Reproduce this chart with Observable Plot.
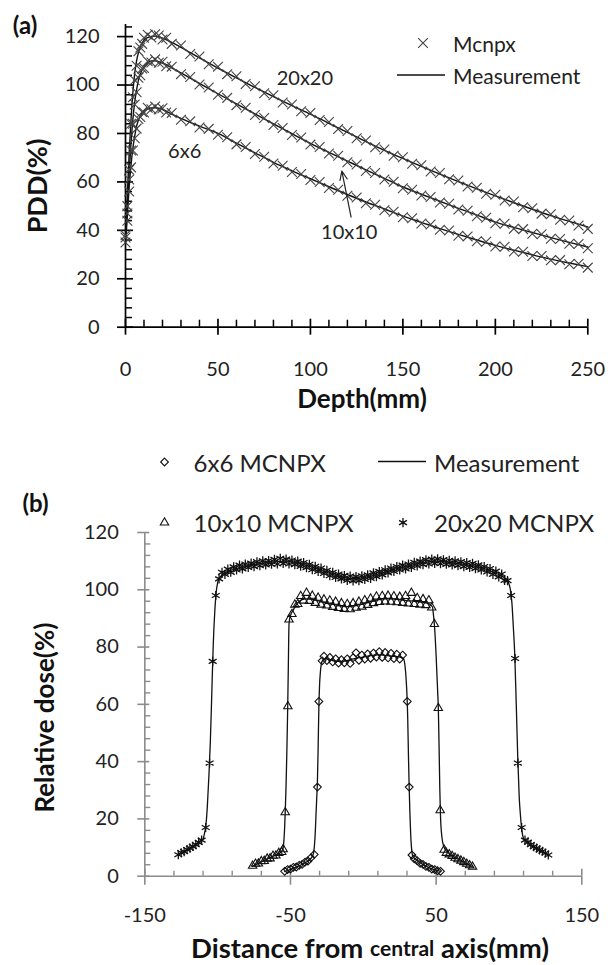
<!DOCTYPE html>
<html><head><meta charset="utf-8">
<script src="https://cdn.jsdelivr.net/npm/d3@7"></script>
<script src="https://cdn.jsdelivr.net/npm/@observablehq/plot@0.6"></script>
<style>
body{margin:0;background:#fff;}
#wrap{position:relative;width:608px;height:965px;overflow:hidden;font-family:Lato,'Open Sans',sans-serif;}
#topc{position:absolute;left:0;top:0}
#botc{position:absolute;left:0;top:440px}
#ov{position:absolute;left:0;top:0;pointer-events:none}
</style></head>
<body><div id="wrap"><div id="topc"></div><div id="botc"></div>
<svg id="ov" width="608" height="965" font-family="Lato,'Open Sans',sans-serif"></svg></div>
<script>
// ---------- (a) PDD curves ----------
const pddMeasDepth = [0,1,2,3,4,5,6,7,8,10,12,14,16,18,20,25,30,40,50,60,70,80,90,100,110,120,130,140,150,160,170,180,190,200,210,220,230,240,250];
const pddMeas20 = [38,55,72,86,97,105,110,113.5,116,118.5,119.6,120.1,120.2,119.9,119.4,117.6,115.6,111.2,107,103,99,95.2,91.5,88,84.2,80.5,76.6,73,69.7,66.4,63.2,60.1,57.1,54.2,51.4,48.7,46.1,43.7,41.4];
const pddMeas10 = [36,50,64,76,86,93,98,102,104.5,107.5,109.2,109.9,110,109.7,109.1,107.1,105,100.7,96.4,92.2,88.1,84,79.9,75.9,72.2,68.6,65,61.5,57.9,54.9,52,49.1,46.3,43.4,41.2,39.1,37,35,33.1];
const pddMeas6 = [34,46,58,67,74,79,83,85.6,87.3,89.2,90.1,90.5,90.6,90.4,89.9,88,86.2,83,80,76,72,68.1,64.6,61.3,58,54.8,51.7,48.8,45.9,43.3,40.7,38.3,36,33.8,31.8,29.9,28.1,26.5,25];

const pddMcDepth = [0,1,2,3,4,5,6,7,8,9,10,12,14,16,18,20,22,25,30,35,40,45,50,55,60,65,70,75,80,85,90,95,100,105,110,115,120,125,130,135,140,145,150,155,160,165,170,175,180,185,190,195,200,205,210,215,220,225,230,235,240,245,250];
const pddMc20 = [37,50,65,84,95,102,108,114,115.5,117,119.5, 120.8,119.6,121,120.5,118.8,119.5,
  117,116.3,112.8,111.8,108.6,107.6,104.5,103.6,100.4,99.5, 96.6,95.8,92.8,92,89.2,88.5,85.6,84.7,81.8,81,
  78,77.1,74.3,73.4,70.8,70.2,67.5,66.9,64.3,63.7, 61.1,60.6,58.1,57.6,55.1,54.7,52.3,51.9,49.5,49.1, 46.9,46.6,44.4,44.1,42,40.6];
const pddMc10 = [38,47,61,73,84,92,97,103,104,106.8,107, 109.8,109.3,110.6,109.2,109.6,107.8,
  107.6,104.5,103.3,100.2,99,96,94.7,91.7,90.6,87.6, 86.4,83.5,82.3,79.4,78.3,75.4,74.4,71.7,70.8,68.1,
  67.2,64.5,63.7,61,60.1,57.4,56.8,54.4,53.8,51.5, 51,48.6,48.1,45.8,45.2,42.9,42.7,40.7,40.5,38.6, 38.4,36.5,36.4,34.5,34.4,32.6];
const pddMc6 = [35,44,56,66,73,78,82,86,86.8,88.9,88.7, 90.6,90,91.1,89.9,90.4,88.7,
  88.5,85.7,85,82.5,81.9,79.5,78.4,75.5,74.4,71.5, 70.4,67.6,66.7,64.1,63.3,60.8,60,57.5,56.8,54.3,
  53.6,51.2,50.6,48.3,47.7,45.4,45,42.8,42.4,40.2, 39.9,37.8,37.5,35.5,35.3,33.3,33.2,31.3,31.2,29.4, 29.4,27.6,27.7,26,26.2,24.6];

const pddXTicks = [0,50,100,150,200,250];
const pddYTicks = [0,20,40,60,80,100,120];
const pddLabels = [{text:"20x20", x:97, y:102.8},{text:"6x6", x:32, y:72.4},{text:"10x10", x:121, y:39}];
const pddArrow = [{x1:122, y1:45.5, x2:117, y2:64.5}];

// ---------- (b) lateral profiles ----------
const prof20McX = [-127,-125,-123,-121,-119,-117,-115,-113,-111,-108.2,-105.5,-103.4,-101.3,
  -99,-97,-95,-93,-91,-89,-87,-85,-83,-81, -79,-77,-75,-73,-71,-69,-67,-65,-63,-61,
  -59,-57,-55,-53,-51,-49,-47,-45,-43,-41, -39,-37,-35,-33,-31,-29,-27,-25,-23,-21,
  -19,-17,-15,-13,-11,-9,-7,-5,-3,-1, 1,3,5,7,9,11,13,15,17,19,
  21,23,25,27,29,31,33,35,37,39, 41,43,45,47,49,51,53,55,57,59,
  61,63,65,67,69,71,73,75,77,79, 81,83,85,87,89,91,93,95,97,99,
  101.5,104.2,106.1,108.7,111,113,115,117,119,121,123,125,127];
const prof20McY = [7.5,8.2,8.6,9.3,9.8,10.4,11,11.8,12.6,17,39.5,75,98,
  103.8,106.1,105.4,107.2,106.1,108,106.9,108.6,107.3,109, 107.8,109.3,108.1,109.8,108.4,110.1,108.7,110.2,108.9,110.6,
  109,111,109.2,110.7,109,110.4,108.8,110,108.2,109.5, 107.7,108.9,107,108.2,106.4,107.6,105.7,106.8,104.9,106.1,
  104.3,105.5,103.8,105,103.3,104.8,103.1,104.6,103.2,104.9, 103.6,105.2,104,105.9,104.6,106.4,105.2,107,105.9,107.6,
  106.4,108.1,106.9,108.6,107.3,109,107.8,109.6,108.3,110, 108.8,110.5,109,110.7,109.2,110.8,109.1,110.5,108.9,110.3,
  108.7,110.1,108.4,109.8,108.1,109.5,107.8,109.2,107.4,108.7, 106.9,108.1,106.2,107.4,105.4,106.5,104.5,105.5,103.3,103.2,
  98,76,39.5,17,12.6,11.9,11,10.3,9.8,9.2,8.7,8.1,7.4];
const prof20MeasX = [-127,-120,-112,-110,-109,-108,-107,-106,-105,-104,-103,-102,-101,-100,-99,-95,-90,-80,-70,-60,
  -55,-50,-40,-30,-20,-10,-5,0,10,20,30,40,50,60,70,80,90,95,99,100,101,102,103,104,105,106,107,108,109,110,112,120,127];
const prof20MeasY = [7.5,9.3,12,13,15,18,25,35,47,64,81,92,99,102.5,104,105.9,107,108.3,109.2,109.8,
  110,109.8,108.6,107,105.2,104,103.9,104.2,105.5,107,108.2,109.4,110,109.5,108.8,107.8,106,104.8,103.3,102,100,95.5,87,77,60,42,28,20.5,15.5,13.2,12,9.2,7.4];

const prof10McX = [-76,-74,-72,-70,-68,-66,-64,-62,-60,-58,-56,-55,-53.6,-51.8,-51,
  -49,-47,-45,-43,-41,-39,-37,-35,-33,-31, -29,-27,-25,-23,-21,-19,-17,-15,-13,-11,
  -9,-7,-5,-3,-1,1,3,5,7,9, 11,13,15,17,19,21,23,25,27,29, 31,33,35,37,39,41,43,45,47,
  48.8,51.5,52.8,55.5,57,59,61,63,65,67,69,71,73,75];
const prof10McY = [3.6,4.3,4.4,5.2,5.3,6.1,6.2,7.1,7.2,8.1,8.4,9.4,22.3,59.3,89.6,
  91.5,94.8,95,97.8,96.2,98.9,96.1,97.9,95.4,97.2, 94.8,96.6,94.5,96.2,94,95.8,93.6,95.3,93.3,95,
  93.2,95.3,93.7,95.8,94.1,96.3,94.7,96.9,95.3,97.6, 95.7,97.8,95.9,97.9,95.8,97.7,95.6,97.5,95.4,97.8,
  95.2,98.9,95,97.1,94.8,96.7,94.6,96.3,93.8,
  88,58.7,23,9.2,8.1,7.6,7,6.4,5.9,5.4,4.9,4.3,3.8,3.3];
const prof10MeasX = [-76,-70,-62,-57,-56,-55,-54.5,-54,-53.5,-53,-52.5,-52,-51.5,-51,-50.5,-50,-48,-45,-40,-35,
  -30,-25,-20,-15,-10,-5,0,5,10,15,20,25,30,35,40,45,47.5,48,49,50,51,51.5,52,52.5,53,54,55,56,60,68,75];
const prof10MeasY = [3.5,5,6.9,8.2,8.7,10,12.5,17,24,32,43,56,72,88,90,91,93,95.5,96.8,96.7,
  96,95.3,94.8,94.3,94.1,94.6,95.1,95.9,96.5,96.8,96.8,96.5,96.2,96,95.7,95.2,94,92,86.5,77,65,58.7,46,31,21,13.5,10.8,9.5,7.5,5.2,3.3];

const prof6McX = [-54,-52,-50,-48,-46,-44,-42,-40,-38,-36,-33.7,-31.5,-30.5,-28.3,
  -27,-25,-23,-21,-19,-17,-15,-13,-11,-9, -7,-5,-3,-1,1,3,5,7,9,11, 13,15,17,19,21,23,25,27,
  30.2,31.5,33.4,35,37,39,41,43,45,47,49,51,53];
const prof6McY = [1.7,2.3,2.5,3.1,3.2,3.8,4.1,4.9,5.3,6.4,7.6,31.1,61,75.2,
  76.8,75.3,76.4,74.8,75.9,74.4,75.6,74.5,75.9,74.3, 76.3,78,75.4,77.2,75.8,77.6,76.1,77.9,76.5,78.4, 76.4,78.1,76.2,77.8,76,77.5,75.8,77.2,
  61,31.1,7.4,6.1,5.4,4.5,4.1,3.4,3.1,2.5,2.3,1.9,1.7];
const prof6MeasX = [-54,-45,-40,-36,-34.5,-34,-33.5,-33,-32.5,-32,-31.5,-31,-30.5,-30,-29.5,-29,-28,-26,-20,-15,
  -10,-5,0,5,10,15,20,25,27.5,28.5,29.5,30,30.5,31,31.5,32,32.5,33,33.5,34,36,40,45,53];
const prof6MeasY = [1.6,3.4,4.7,6.2,7.5,8.5,11,15,21,27,33,45,59,67,71,73.5,75.3,75.9,75.2,75,
  75.4,76.1,76.5,77,77.3,77.1,76.8,76.5,76,74,68,63,55,42,31,22,15,10.5,8,7,5.9,4.4,3,1.7];

const profXTicks = [-150,-50,50,150];
const profYTicks = [0,20,40,60,80,100,120];

// ---------- helpers ----------
const zip = (xs, ys) => xs.map((x, i) => ({x, y: ys[i]}));
const FONT = "Lato, 'Open Sans', sans-serif";
const pddXMinor = d3.range(0, 251, 10).filter(d => d % 50 !== 0);
const pddYMinor = d3.range(0, 125, 4).filter(d => d % 20 !== 0);
const profXMinor = d3.range(-150, 151, 20).filter(d => (d + 150) % 100 !== 0);
const profYMinor = d3.range(0, 121, 4).filter(d => d % 20 !== 0);
const blank = () => "";
const plain = d => String(d);

// ---------- chart (a) ----------
const AX = "#000";
const topPlot = Plot.plot({
  width: 608, height: 440,
  marginLeft: 125, marginRight: 20.7, marginTop: 24, marginBottom: 113.3,
  x: {domain: [0, 250], label: null},
  y: {domain: [0, 125], label: null},
  style: {fontFamily: FONT, fontSize: "20px", color: "#222", background: "transparent"},
  marks: [
    Plot.ruleY([0], {stroke: AX, strokeWidth: 1.7}),
    Plot.ruleX([0], {stroke: AX, strokeWidth: 1.7}),
    Plot.axisX(pddXTicks, {anchor: "bottom", tickSize: 8, stroke: AX, strokeWidth: 1.7, tickFormat: blank, label: null}),
    Plot.axisX(pddXTicks, {anchor: "bottom", tickSize: 8, dy: -8, stroke: AX, strokeWidth: 1.7, tickFormat: blank, label: null}),
    Plot.axisX(pddXMinor, {anchor: "bottom", tickSize: 7, dy: -7, stroke: AX, strokeWidth: 1.5, tickFormat: blank, label: null}),
    Plot.axisX(pddXTicks, {anchor: "bottom", tickSize: 0, tickPadding: 35, fill: "#222", fontSize: 20, tickFormat: plain, label: null}),
    Plot.axisY(pddYTicks, {anchor: "left", tickSize: 8, stroke: AX, strokeWidth: 1.7, tickFormat: blank, label: null}),
    Plot.axisY(pddYTicks, {anchor: "left", tickSize: 8, dx: 8, stroke: AX, strokeWidth: 1.7, tickFormat: blank, label: null}),
    Plot.axisY(pddYMinor, {anchor: "left", tickSize: 7, dx: 7, stroke: AX, strokeWidth: 1.5, tickFormat: blank, label: null}),
    Plot.axisY(pddYTicks, {anchor: "left", tickSize: 0, tickPadding: 26, fill: "#222", fontSize: 20, tickFormat: plain, label: null}),
    Plot.line(zip(pddMeasDepth, pddMeas20), {x: "x", y: "y", curve: "monotone-x", stroke: "#111", strokeWidth: 1.4}),
    Plot.line(zip(pddMeasDepth, pddMeas10), {x: "x", y: "y", curve: "monotone-x", stroke: "#111", strokeWidth: 1.4}),
    Plot.line(zip(pddMeasDepth, pddMeas6), {x: "x", y: "y", curve: "monotone-x", stroke: "#111", strokeWidth: 1.4}),
    Plot.dot(zip(pddMcDepth, pddMc20), {x: "x", y: "y", symbol: "times", r: 4.5, stroke: "#444", strokeWidth: 1.1}),
    Plot.dot(zip(pddMcDepth, pddMc10), {x: "x", y: "y", symbol: "times", r: 4.5, stroke: "#444", strokeWidth: 1.1}),
    Plot.dot(zip(pddMcDepth, pddMc6), {x: "x", y: "y", symbol: "times", r: 4.5, stroke: "#444", strokeWidth: 1.1}),
    Plot.text(pddLabels, {x: "x", y: "y", text: "text", fontSize: 20, fill: "#222"}),
    Plot.arrow(pddArrow, {x1: "x1", y1: "y1", x2: "x2", y2: "y2", stroke: "#222", strokeWidth: 1.2, headLength: 12, headAngle: 45})
  ]
});
document.getElementById("topc").appendChild(topPlot);

// ---------- chart (b) ----------
const GX = "#8c8c8c";
const botPlot = Plot.plot({
  width: 608, height: 525,
  marginLeft: 144.3, marginRight: 26.7, marginTop: 92, marginBottom: 89.3,
  x: {domain: [-150, 150], label: null},
  y: {domain: [0, 120], label: null},
  style: {fontFamily: FONT, fontSize: "20px", color: "#222", background: "transparent"},
  marks: [
    Plot.ruleY([0], {stroke: GX, strokeWidth: 1.6}),
    Plot.ruleX([-150], {stroke: GX, strokeWidth: 1.6}),
    Plot.axisX(profXTicks, {anchor: "bottom", tickSize: 9, stroke: GX, strokeWidth: 1.6, tickFormat: blank, label: null}),
    Plot.axisX(profXTicks, {anchor: "bottom", tickSize: 7, dy: -7, stroke: GX, strokeWidth: 1.6, tickFormat: blank, label: null}),
    Plot.axisX(profXMinor, {anchor: "bottom", tickSize: 5, dy: -5, stroke: GX, strokeWidth: 1.4, tickFormat: blank, label: null}),
    Plot.axisX(profXTicks, {anchor: "bottom", tickSize: 0, tickPadding: 32, fill: "#222", fontSize: 20, tickFormat: plain, label: null}),
    Plot.axisY(profYTicks, {anchor: "left", tickSize: 7, stroke: GX, strokeWidth: 1.6, tickFormat: blank, label: null}),
    Plot.axisY(profYTicks, {anchor: "left", tickSize: 5, dx: 5, stroke: GX, strokeWidth: 1.6, tickFormat: blank, label: null}),
    Plot.axisY(profYMinor, {anchor: "left", tickSize: 6, dx: 6, stroke: GX, strokeWidth: 1.4, tickFormat: blank, label: null}),
    Plot.axisY(profYTicks, {anchor: "left", tickSize: 0, tickPadding: 26, fill: "#222", fontSize: 20, tickFormat: plain, label: null}),
    Plot.line(zip(prof20MeasX, prof20MeasY), {x: "x", y: "y", curve: "monotone-x", stroke: "#111", strokeWidth: 1.3}),
    Plot.line(zip(prof10MeasX, prof10MeasY), {x: "x", y: "y", curve: "monotone-x", stroke: "#111", strokeWidth: 1.3}),
    Plot.line(zip(prof6MeasX, prof6MeasY), {x: "x", y: "y", curve: "monotone-x", stroke: "#111", strokeWidth: 1.3}),
    Plot.dot(zip(prof20McX, prof20McY), {x: "x", y: "y", symbol: "asterisk", r: 4.3, stroke: "#111", strokeWidth: 1.3}),
    Plot.dot(zip(prof10McX, prof10McY), {x: "x", y: "y", symbol: "triangle2", r: 4, stroke: "#111", strokeWidth: 1.1}),
    Plot.dot(zip(prof6McX, prof6McY), {x: "x", y: "y", symbol: "diamond2", r: 3.5, stroke: "#111", strokeWidth: 1.1})
  ]
});
document.getElementById("botc").appendChild(botPlot);

// ---------- overlay: panel letters, axis titles, legends ----------
const ov = d3.select("#ov");
function txt(x, y, s, o = {}) {
  const t = ov.append("text").attr("x", x).attr("y", y).attr("dominant-baseline", "central")
    .attr("text-anchor", o.anchor || "middle").attr("font-size", o.size || 20)
    .attr("font-weight", o.weight || "normal").attr("fill", o.fill || "#222");
  if (o.rotate) t.attr("transform", `rotate(${o.rotate},${x},${y})`);
  t.text(s);
  return t;
}
function sym(type, x, y, r, sw = 1, col = "#111") {
  ov.append("path").attr("d", d3.symbol(type, Math.PI * r * r)()).attr("transform", `translate(${x},${y})`)
    .attr("fill", "none").attr("stroke", col).attr("stroke-width", sw);
}
function lg(x1, x2, y) {
  ov.append("line").attr("x1", x1).attr("x2", x2).attr("y1", y).attr("y2", y).attr("stroke", "#111").attr("stroke-width", 1.4);
}
txt(25, 24, "(a)", {size: 24, weight: "bold", fill: "#111"});
txt(36.6, 186, "PDD(%)", {size: 27, weight: "bold", fill: "#111", rotate: -90});
txt(362, 398, "Depth(mm)", {size: 26, weight: "bold", fill: "#111"});
sym(d3.symbolTimes, 423, 43, 4.5, 1.1, "#444");
txt(453, 43, "Mcnpx", {anchor: "start", size: 21});
lg(397, 445, 75);
txt(453, 75, "Measurement", {anchor: "start", size: 21});

txt(35.5, 502, "(b)", {size: 24, weight: "bold", fill: "#111"});
txt(44.2, 717.6, "Relative dose(%)", {size: 26, weight: "bold", fill: "#111", rotate: -90});
const ttl = txt(370, 947, "", {size: 27.5, weight: "bold", fill: "#111"});
ttl.append("tspan").text("Distance from ");
ttl.append("tspan").attr("font-size", 21).text("central");
ttl.append("tspan").text(" axis(mm)");
sym(d3.symbolDiamond2, 164.5, 462, 3.5, 1.1);
txt(193.6, 462, "6x6 MCNPX", {anchor: "start", size: 24});
lg(378, 426, 461.5);
txt(434, 462, "Measurement", {anchor: "start", size: 24});
sym(d3.symbolTriangle2, 164.5, 522.6, 4, 1.1);
txt(193.6, 522.6, "10x10 MCNPX", {anchor: "start", size: 24});
sym(d3.symbolAsterisk, 403, 522.6, 4.3, 1.3);
txt(434, 522.6, "20x20 MCNPX", {anchor: "start", size: 24});
</script></body></html>
